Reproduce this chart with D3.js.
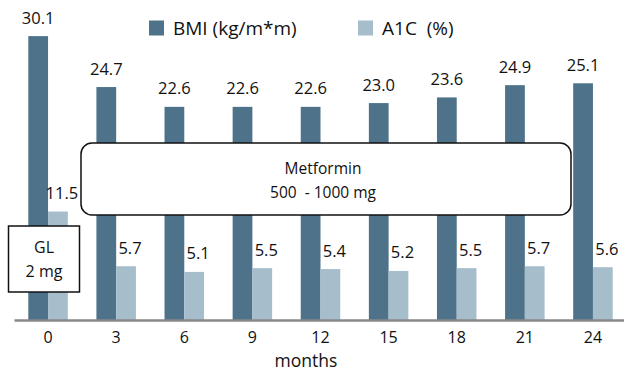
<!DOCTYPE html>
<html>
<head>
<meta charset="utf-8">
<script src="https://cdn.jsdelivr.net/npm/d3@7"></script>
<style>
  html, body { margin: 0; padding: 0; background: #fff; }
  svg { display: block; font-family: "Open Sans", "Noto Sans", sans-serif; }
</style>
</head>
<body>
<svg id="chart" width="624" height="375"></svg>
<script>
const months = ["0", "3", "6", "9", "12", "15", "18", "21", "24"];
const bmi = [30.1, 24.7, 22.6, 22.6, 22.6, 23.0, 23.6, 24.9, 25.1];
const a1c = [11.5, 5.7, 5.1, 5.5, 5.4, 5.2, 5.5, 5.7, 5.6];
const seriesNames = ["BMI (kg/m*m)", "A1C  (%)"];
const colors = ["#4d7289", "#a6bdcc"];

const svg = d3.select("#chart");
const baseY = 320;

const x = d3.scaleBand().domain(months).range([14, 627]).paddingInner(0.42).paddingOuter(0.21);
const xs = d3.scaleBand().domain([0, 1]).range([0, x.bandwidth()]);
const y = d3.scaleLinear().domain([0, 32]).range([baseY, 18.2]);

const data = months.map((m, i) => ({ m, v: [bmi[i], a1c[i]] }));

const g = svg.append("g");
const groups = g.selectAll("g.grp").data(data).join("g")
  .attr("transform", d => `translate(${x(d.m)},0)`);

groups.selectAll("rect").data(d => d.v.map((v, k) => ({ v, k }))).join("rect")
  .attr("x", d => xs(d.k))
  .attr("width", xs.bandwidth())
  .attr("y", d => y(d.v))
  .attr("height", d => y(0) - y(d.v))
  .attr("fill", d => colors[d.k]);

groups.selectAll("text.val").data(d => d.v.map((v, k) => ({ v, k }))).join("text")
  .attr("class", "val")
  .attr("x", d => xs(d.k) + xs.bandwidth() / 2 + (d.k === 1 ? 4 : 0))
  .attr("y", d => y(d.v) - 12.5)
  .attr("text-anchor", "middle")
  .attr("font-size", 16.5)
  .attr("fill", "#111")
  .text(d => d.v.toFixed(1));

// axis
const ax = svg.append("g").attr("transform", `translate(0,${baseY})`)
  .call(d3.axisBottom(x).tickSize(0).tickPadding(12));
ax.select(".domain").attr("stroke", "#888").attr("stroke-width", 2.5);
ax.selectAll("text").attr("font-size", 16).attr("fill", "#111")
  .attr("font-family", "'Open Sans', 'Noto Sans', sans-serif");

svg.append("text").attr("x", 306).attr("y", 367).attr("text-anchor", "middle")
  .attr("font-size", 17.5).attr("fill", "#111").text("months");

// legend
const legX = [149, 358];
seriesNames.forEach((n, k) => {
  svg.append("rect").attr("x", legX[k]).attr("y", 20.5).attr("width", 15).attr("height", 15).attr("fill", colors[k]);
  svg.append("text").attr("x", legX[k] + 24).attr("y", 35).attr("font-size", 19)
    .attr("fill", "#111").style("white-space", "pre").text(n);
});

// annotation boxes
svg.append("rect").attr("x", 81).attr("y", 143).attr("width", 490).attr("height", 72)
  .attr("rx", 11).attr("fill", "#fff").attr("stroke", "#111").attr("stroke-width", 1.5);
svg.append("text").attr("x", 323).attr("y", 174).attr("text-anchor", "middle").attr("font-size", 15.5)
  .attr("fill", "#111").text("Metformin");
svg.append("text").attr("x", 323).attr("y", 198).attr("text-anchor", "middle").attr("font-size", 15.5)
  .attr("fill", "#111").style("white-space", "pre").text("500  - 1000 mg");

svg.append("rect").attr("x", 8.5).attr("y", 226).attr("width", 71).attr("height", 66)
  .attr("fill", "#fff").attr("stroke", "#111").attr("stroke-width", 1.5);
svg.append("text").attr("x", 44).attr("y", 253).attr("text-anchor", "middle").attr("font-size", 16)
  .attr("fill", "#111").text("GL");
svg.append("text").attr("x", 44).attr("y", 277).attr("text-anchor", "middle").attr("font-size", 16)
  .attr("fill", "#111").text("2 mg");
</script>
</body>
</html>
